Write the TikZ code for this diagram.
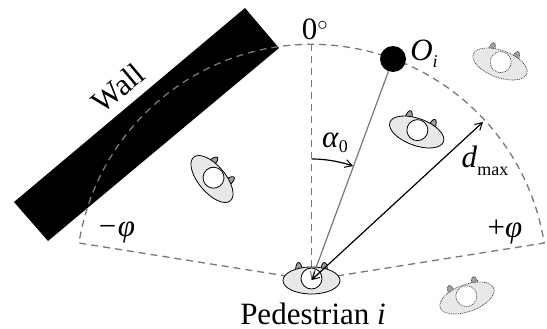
\documentclass[tikz,border=0pt]{standalone}
\usepackage{fontspec}
\setmainfont{Liberation Serif}
\usetikzlibrary{arrows.meta}
\definecolor{gdash}{gray}{0.47}
\definecolor{bodyfill}{gray}{0.91}
\definecolor{earfill}{gray}{0.62}
\tikzset{
  dashline/.style={draw=gdash,line width=1.3pt,dash pattern=on 7pt off 5pt},
  arrowtip/.style={-{Straight Barb[length=7pt,width=8pt,line width=1pt]}},
  txt/.style={inner sep=0pt,font=\fontsize{31}{33}\selectfont},
  pedline/.style={draw=black,line width=0.8pt},
  peddotted/.style={draw=black!75,line width=0.7pt,dash pattern=on 0.9pt off 0.9pt},
  pics/ped/.style={code={
    \path[#1,fill=earfill] (-16,-9) .. controls (-16,-21) and (-10,-21) .. (-9,-9) -- cycle;
    \path[#1,fill=earfill] (9,-9) .. controls (10,-21) and (16,-21) .. (16,-9) -- cycle;
    \path[#1,fill=bodyfill] (0,0) ellipse [x radius=28.5,y radius=13.5];
    \path[#1,fill=white] (0,-2) circle [radius=10.5];
  }}
}
\newcommand{\subsc}[2][-6pt]{\raisebox{#1}{\fontsize{18}{18}\selectfont #2}}
\begin{document}
\begin{tikzpicture}[x=1pt,y=-1pt]
\useasboundingbox (0,0) rectangle (547,329);
\path[fill=white] (0,0) rectangle (547,329);
% wall
\fill[black] (245,8) -- (279,48) -- (48,241) -- (14,202) -- cycle;
\node[txt,rotate=40] (wall) at (118,88) {Wall};
% sector
\coordinate (P) at (311.5,280);
\coordinate (L) at (79,243);
\coordinate (R) at (544,243.5);
\coordinate (T) at (311.5,44);
\coordinate (E) at (483,122);
\draw[dashline] (P) -- (L) arc[start angle=171,end angle=9,radius=235.5pt] -- (P);
\draw[dashline] (T) -- (P);
% pedestrians
\pic at (311.5,280.5) {ped=pedline};
\pic[rotate=-20] at (416.7,132) {ped=pedline};
\pic[rotate=-50] at (212,179) {ped=pedline};
\pic[rotate=-20] at (500,64) {ped=peddotted};
\pic[rotate=20] at (467,298) {ped=peddotted};
% connectors
\node[circle,fill=black,minimum size=26pt,inner sep=0pt] (O) at (393,59) {};
\draw[draw=gdash,line width=1.2pt,arrowtip] (O) -- (P);
\draw[line width=1.2pt,{Straight Barb[length=7pt,width=8pt,line width=1pt]}-{Straight Barb[length=7pt,width=8pt,line width=1pt]}] (P) -- (E);
\coordinate (A0) at (312,159);
\coordinate (A1) at (353,166);
\draw[line width=1.2pt,arrowtip] (A0) .. controls (327,159) and (341,162) .. (A1);
% labels
\node[txt] (zero) at (315,29) {0$^\circ$};
\node[txt] (oi) at (424,54) {\textit{O}\subsc[-7pt]{\textit{i}}};
\node[txt] (alpha) at (335,143) {\textit{α}\subsc[-5pt]{0}};
\node[txt] (dmax) at (485,161) {\textit{d}\subsc[-8pt]{max}};
\node[txt] (mphi) at (116,232) {\textit{−φ}};
\node[txt] (pphi) at (505,232) {+\textit{φ}};
\node[txt] (name) at (313,314) {Pedestrian \textit{i}};
\end{tikzpicture}
\end{document}
